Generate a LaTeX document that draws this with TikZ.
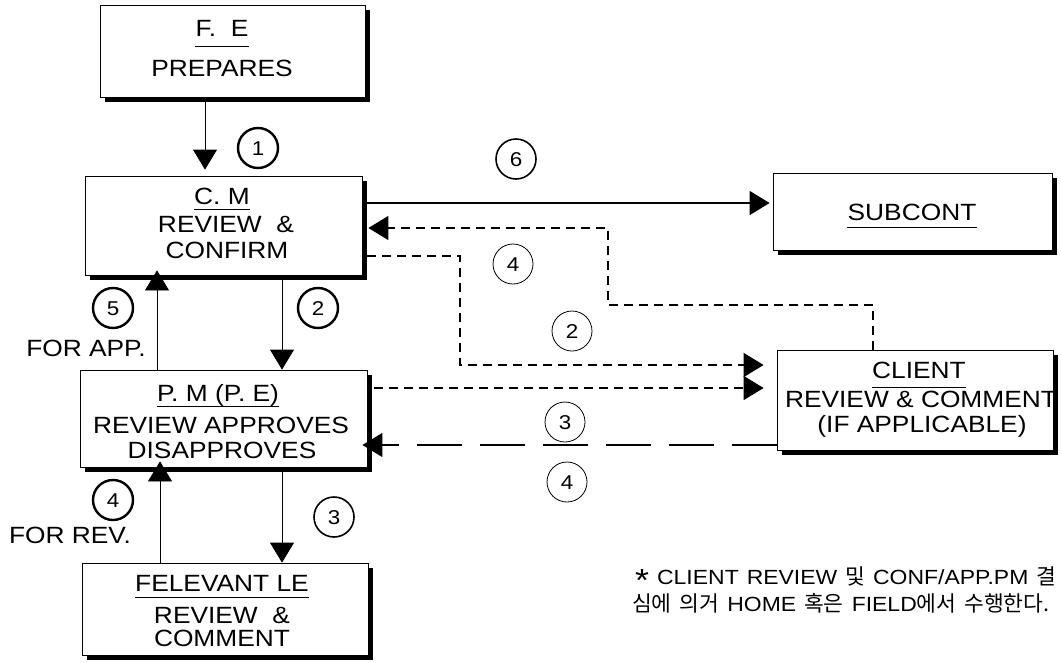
\documentclass[tikz,border=0pt]{standalone}
\usepackage{fontspec}
\newfontfamily\boxfont[FakeStretch=1.12]{Liberation Sans}
\newfontfamily\krfont{Noto Sans CJK KR}
\newcommand\kr[1]{{\krfont\fontsize{21.5}{24}\selectfont #1}}
\newcommand\bigast{\raisebox{-7.5pt}[0pt][0pt]{\fontsize{32}{32}\selectfont *}}
\newcommand\widespace{\spaceskip=8pt\relax}
\usetikzlibrary{arrows.meta,shadows,calc}
\tikzset{
 box/.style={draw, line width=0.8pt, fill=white, inner sep=0pt,
   drop shadow={shadow xshift=5pt,shadow yshift=-5pt,fill=black,opacity=1}},
 txt/.style={font=\boxfont\fontsize{23.5}{27}\selectfont, inner sep=0pt, text height=16.8pt, text depth=0pt},
 uline/.style={line width=1pt},
 num/.style={circle, draw, minimum size=40pt, inner sep=0pt,
   font=\boxfont\fontsize{20}{24}\selectfont, text height=14.3pt, text depth=0pt},
 numbold/.style={num, line width=2.4pt},
 nummid/.style={num, line width=1.6pt},
 numthin/.style={num, line width=0.8pt},
 head/.style={-{Triangle[width=24pt,length=20pt]}},
 vline/.style={head, line width=0.8pt},
 sline/.style={head, line width=1.5pt},
 dline/.style={head, line width=1.5pt, dash pattern=on 9pt off 6pt},
 ldline/.style={head, line width=1.4pt, dash pattern=on 45pt off 18pt},
 note/.style={font=\boxfont\fontsize{20.5}{25}\selectfont, inner sep=0pt, text height=14.7pt, text depth=0pt, anchor=west},
}
\begin{document}
\begin{tikzpicture}[x=1pt,y=-1pt]
\useasboundingbox (0,0) rectangle (1061,662);
% boxes
\node[box, minimum width=265pt, minimum height=92pt] (FE) at (232.5,51) {};
\node[box, minimum width=277pt, minimum height=99pt] (CM) at (223.5,225.5) {};
\node[box, minimum width=287pt, minimum height=97pt] (PM) at (223.5,418.5) {};
\node[box, minimum width=286pt, minimum height=92pt] (LE) at (225,609) {};
\node[box, minimum width=279pt, minimum height=77pt] (SUB) at (912.5,211.5) {};
\node[box, minimum width=276pt, minimum height=100pt] (CL) at (915,400) {};
% box texts
\node[txt] (fe1) at (222,28) {F.\ \ E};
\node[txt] (fe2) at (222,68) {PREPARES};
\draw[uline] ([yshift=-10pt]fe1.south west) -- ([yshift=-10pt]fe1.south east);
\node[txt] (cm1) at (222,196) {C. M};
\node[txt] (cm2) at (226,224) {REVIEW \ \&};
\node[txt] (cm3) at (227,250) {CONFIRM};
\draw[uline] ([yshift=-5pt]cm1.south west) -- ([yshift=-5pt]cm1.south east);
\node[txt] (pm1) at (218,393) {P. M (P. E)};
\node[txt] (pm2) at (221,425) {REVIEW APPROVES};
\node[txt] (pm3) at (222,450) {DISAPPROVES};
\draw[uline] ([yshift=-5pt]pm1.south west) -- ([yshift=-5pt]pm1.south east);
\node[txt] (le1) at (222,583) {FELEVANT LE};
\node[txt] (le2) at (222,615) {REVIEW \ \&};
\node[txt] (le3) at (222,638) {COMMENT};
\draw[uline] ([yshift=-6pt]le1.south west) -- ([yshift=-6pt]le1.south east);
\node[txt] (sb1) at (912,212) {SUBCONT};
\draw[uline] ([yshift=-7pt]sb1.south west) -- ([yshift=-7pt]sb1.south east);
\node[txt] (cl1) at (919,370) {CLIENT};
\node[txt] (cl2) at (921,399) {REVIEW \& COMMENT};
\node[txt] (cl3) at (922,424) {(IF APPLICABLE)};
\draw[uline] ([yshift=-9pt]cl1.south west) -- ([yshift=-9pt]cl1.south east);
% side labels
\node[txt] (forapp) at (86,348) {FOR APP.};
\node[txt] (forrev) at (70,535) {FOR REV.};
% vertical connectors
\draw[vline, shorten >=6pt] ([xshift=-27.5pt]FE.south) -- ([xshift=-18.5pt]CM.north);
\draw[vline] ([xshift=58.5pt]CM.south) -- ([xshift=58.5pt]PM.north);
\draw[vline, shorten >=-5pt] ([xshift=-66.5pt]PM.north) -- ([xshift=-66.5pt]CM.south);
\draw[vline] ([xshift=58.5pt]PM.south) -- ([xshift=57pt]LE.north);
\draw[vline, shorten >=-6pt] ([xshift=-65pt]LE.north) -- ([xshift=-63.5pt]PM.south);
% CM -> SUBCONT
\coordinate (s6) at ($(CM.east)+(5,-22.5)$);
\draw[sline, shorten >=3pt] (s6) -- (s6 -| SUB.west);
% CLIENT -> CM (dashed, 4)
\coordinate (c4) at ($(CL.north)+(-42,0)$);
\coordinate (w4) at (608,305);
\coordinate (e4) at ($(CM.east)+(6,2.5)$);
\draw[dline] (c4) |- (w4) |- (e4);
% CM -> CLIENT (dashed, 2)
\coordinate (s2) at ($(CM.east)+(5,30.5)$);
\coordinate (w2) at (460,365);
\coordinate (t2) at ($(CL.west)+(-13,-35)$);
\draw[dline] (s2) -| (w2) -- (t2);
% PM -> CLIENT (dashed)
\coordinate (s3) at ($(PM.east)+(7,-30.5)$);
\coordinate (t3) at ($(CL.west)+(-13,-12)$);
\draw[dline] (s3) -- (t3);
% CLIENT -> PM (long dashed, 3/4)
\coordinate (sl) at ($(CL.west)+(0,45)$);
\draw[ldline, shorten >=-5pt] (sl) -- (sl -| PM.east);
% circled numbers
\node[numbold] (n1) at (258,148) {1};
\node[numbold] (n2a) at (318,308) {2};
\node[numbold] (n5) at (113,308) {5};
\node[numbold] (n4a) at (113,500) {4};
\node[nummid] (n3a) at (334,517) {3};
\node[nummid] (n6) at (516,159) {6};
\node[numthin] (n4b) at (513,264) {4};
\node[numthin] (n2b) at (572,331) {2};
\node[numthin] (n3b) at (565,422) {3};
\node[numthin] (n4c) at (567,482) {4};
% note
\node[note] (note1) at (635,577) {\widespace\bigast{} CLIENT REVIEW \kr{및} CONF/APP.PM \kr{결}};
\node[note] (note2) at (632,604) {\widespace\kr{심에 의거} HOME \kr{혹은} FIELD\kr{에서 수행한다.}};
\end{tikzpicture}
\end{document}
